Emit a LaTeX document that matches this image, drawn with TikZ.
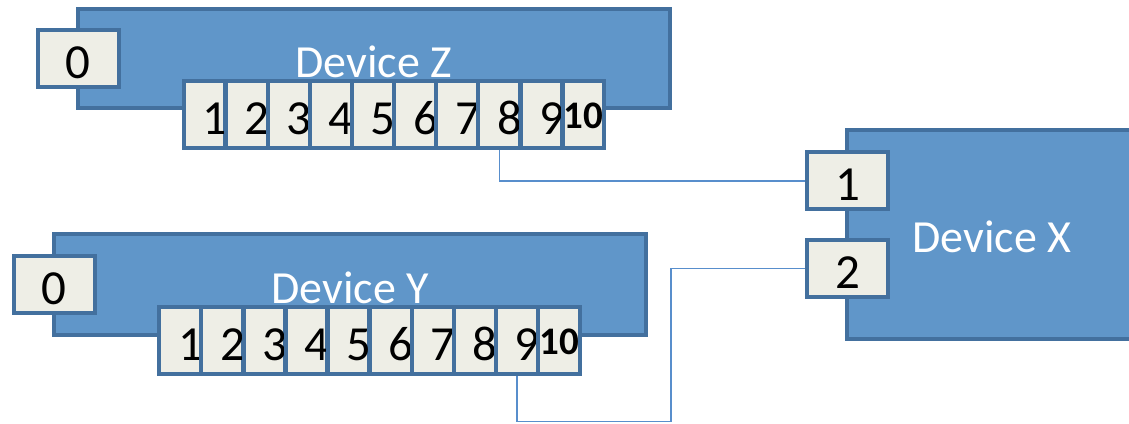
\documentclass[tikz,border=0pt]{standalone}
\usepackage{fontspec}
\setmainfont{Carlito}
\usetikzlibrary{positioning}
\definecolor{devfill}{RGB}{96,150,201}
\definecolor{devline}{RGB}{67,112,158}
\definecolor{portfill}{RGB}{238,238,230}
\definecolor{wire}{RGB}{88,142,204}

\begin{document}
\begin{tikzpicture}[x=1pt,y=-1pt,
  dev/.style={draw=devline,fill=devfill,line width=4pt,text=white,inner sep=0pt,
              font=\fontsize{46}{46}\selectfont,text height=37pt,text depth=0pt},
  port/.style={draw=devline,fill=portfill,line width=4pt,inner sep=0pt,
               font=\fontsize{49}{49}\selectfont,text height=40pt,text depth=0pt},
  bigpin/.style={port,minimum width=81pt,minimum height=57pt},
  pin/.style={port,minimum width=41.7pt,minimum height=67pt,
              text width=45.7pt,inner xsep=-2pt,align=right},
  pinb/.style={port,minimum width=41.7pt,minimum height=67pt,text width=41.7pt,
               align=center,font=\bfseries\fontsize{39}{39}\selectfont,text height=28pt},
  wr/.style={draw=wire,line width=1.4pt}]
\useasboundingbox (0,0) rectangle (1129,423);
\clip (0,0) rectangle (1129,423);
% device Z
\node[dev,minimum width=592pt,minimum height=99pt] (devz) at (373.7,58.5) {Device Z};
\node[bigpin] (z0) at (78.2,58.5) {0};
\node[pin] (z1) at (204.55,114.5) {1};
\foreach \i [count=\p] in {2,...,9} \node[pin,right=-3.6pt of z\p] (z\i) {\i};
\node[pinb,right=-3.6pt of z9] (z10) {10};
% device Y
\node[dev,minimum width=592.6pt,minimum height=100.4pt] (devy) at (350,284.5) {Device Y};
\node[bigpin] (y0) at (54.2,284.65) {0};
\node[pin] (y1) at (180.15,340.35) {1};
\foreach \i [count=\p] in {2,...,9} \node[pin,right=-3.6pt of y\p] (y\i) {\i};
\node[pinb,right=-3.6pt of y9] (y10) {10};
% device X
\node[dev,minimum width=290pt,minimum height=208.7pt] (devx) at (992,234.35) {Device X};
\node[bigpin] (x1) at (847.5,180.85) {1};
\node[bigpin] (x2) at (847.5,268.65) {2};
% wiring
\coordinate (turn) at (671,421.7);
\draw[wr] (z8.south) |- (x1.west);
\draw[wr] (y9.south) |- (turn) |- (x2.west);
\end{tikzpicture}
\end{document}
